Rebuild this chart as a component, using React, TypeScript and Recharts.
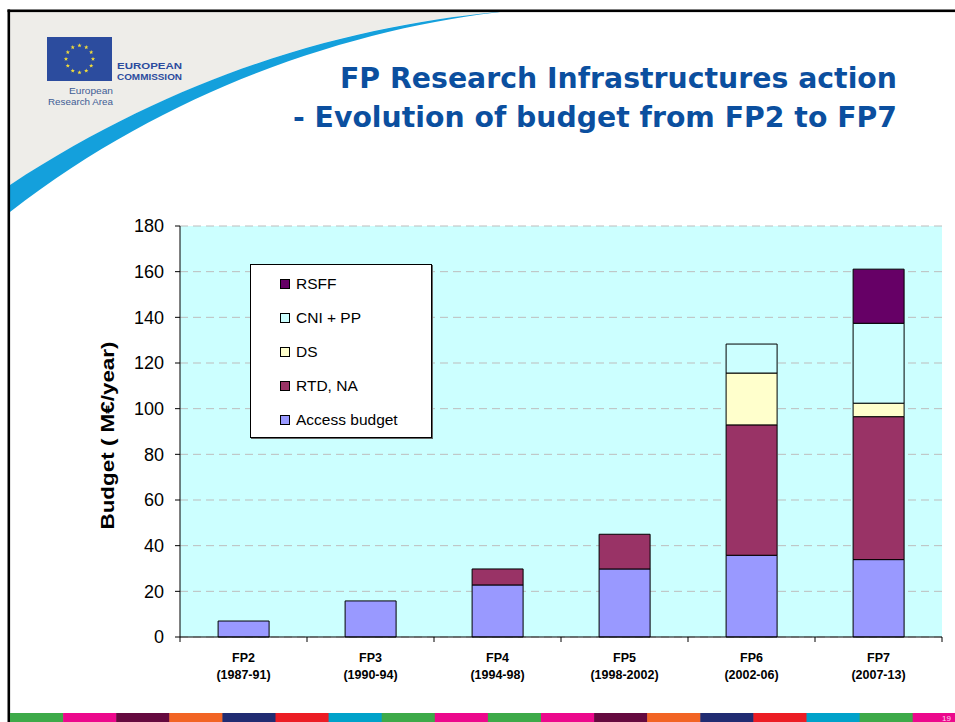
import React from 'react'
import { BarChart, Bar, XAxis, YAxis, CartesianGrid, Legend, Label } from 'recharts'

const programmes = ['FP2', 'FP3', 'FP4', 'FP5', 'FP6', 'FP7']
const periods = ['(1987-91)', '(1990-94)', '(1994-98)', '(1998-2002)', '(2002-06)', '(2007-13)']

// M€ per year, stacked bottom to top
const accessBudget = [7, 15.8, 22.8, 29.8, 35.8, 33.9]
const rtdNa = [0, 0, 7.0, 15.2, 57.1, 62.6]
const ds = [0, 0, 0, 0, 22.7, 5.9]
const cniPp = [0, 0, 0, 0, 12.7, 35.0]
const rsff = [0, 0, 0, 0, 0, 23.7]

const yTicks = [0, 20, 40, 60, 80, 100, 120, 140, 160, 180]

const SERIES = [
  { key: 'access', name: 'Access budget', fill: '#9999FF', values: accessBudget },
  { key: 'rtd', name: 'RTD, NA', fill: '#993366', values: rtdNa },
  { key: 'ds', name: 'DS', fill: '#FFFFCC', values: ds },
  { key: 'cni', name: 'CNI + PP', fill: '#CCFFFF', values: cniPp },
  { key: 'rsff', name: 'RSFF', fill: '#660066', values: rsff },
]

const chartData = programmes.map((p, i) => {
  const row: Record<string, string | number> = { name: p, period: periods[i] }
  SERIES.forEach(s => { row[s.key] = s.values[i] })
  return row
})

const STRIPE = ['#3DAA49', '#EC088C', '#650A3F', '#F26424', '#212C72', '#EC1C24', '#00A2CA', '#3DAA49', '#EC088C']

const FONT = "'Liberation Sans', Arial, sans-serif"
const NARROW = "'Liberation Sans Narrow', 'Arial Narrow', 'Liberation Sans', sans-serif"

function ProgrammeTick(props: any) {
  const { x, y, payload, index } = props
  const half = payload && payload.offset ? payload.offset : 63.5
  const i = index ?? 0
  return (
    <g>
      <line x1={x - half} x2={x - half} y1={y} y2={y + 5} stroke="#000" />
      {i === programmes.length - 1 && (
        <line x1={x + half} x2={x + half} y1={y} y2={y + 5} stroke="#000" />
      )}
      <text x={x} y={y + 25} textAnchor="middle" fontFamily={NARROW} fontWeight="bold" fontSize={12.5} fill="#000">
        {payload.value}
      </text>
      <text x={x} y={y + 42} textAnchor="middle" fontFamily={NARROW} fontWeight="bold" fontSize={12.5} fill="#000">
        {periods[i]}
      </text>
    </g>
  )
}

function BudgetLabel(props: any) {
  const vb = props.viewBox || { x: 100, y: 226, width: 80, height: 411 }
  const cx = vb.x + 13.5
  const cy = vb.y + vb.height / 2 + 4
  return (
    <text
      x={cx}
      y={cy}
      transform={`rotate(-90 ${cx} ${cy})`}
      textAnchor="middle"
      fontFamily={FONT}
      fontWeight="bold"
      fontSize={18}
      textLength={188}
      lengthAdjust="spacingAndGlyphs"
      fill="#000"
    >
      Budget ( M€/year)
    </text>
  )
}

function LegendBox() {
  return (
    <div
      style={{
        width: 180,
        height: 172,
        background: '#fff',
        border: '1px solid #000',
        boxShadow: '1px 1px 0 #666',
        position: 'relative',
        fontFamily: FONT,
        fontSize: 15.5,
        color: '#000',
      }}
    >
      {[...SERIES].reverse().map((s, i) => (
        <div
          key={s.key}
          style={{ position: 'absolute', left: 29, top: 8 + i * 34, height: 22, display: 'flex', alignItems: 'center' }}
        >
          <span style={{ width: 8, height: 8, background: s.fill, border: '1px solid #000', marginRight: 6 }} />
          <span>{s.name}</span>
        </div>
      ))}
    </div>
  )
}

function Star({ cx, cy }: { cx: number; cy: number }) {
  const pts: string[] = []
  for (let k = 0; k < 10; k++) {
    const r = k % 2 === 0 ? 2.3 : 0.95
    const a = -Math.PI / 2 + (k * Math.PI) / 5
    pts.push(`${(cx + r * Math.cos(a)).toFixed(2)},${(cy + r * Math.sin(a)).toFixed(2)}`)
  }
  return <polygon points={pts.join(' ')} fill="#F2DC3A" />
}

function SlideBackground() {
  const stars = Array.from({ length: 12 }, (_, k) => {
    const a = (k * Math.PI) / 6
    return { cx: 79.5 + 13.5 * Math.sin(a), cy: 59 - 13.5 * Math.cos(a) }
  })
  return (
    <svg width={955} height={722} style={{ position: 'absolute', left: 0, top: 0 }}>
      <rect x={0} y={0} width={955} height={722} fill="#fff" />
      <path d="M10,12 L500,12 C380,22 200,60 10,185 Z" fill="#EEEDE9" />
      <path d="M508,11 C380,22 200,60 10,185 L10,212 C180,80 370,26 508,11 Z" fill="#14A0DC" />
      <rect x={7.5} y={9.5} width={947.5} height={2.6} fill="#000" />
      <rect x={7.5} y={9.5} width={2.6} height={712.5} fill="#000" />

      <rect x={47} y={37} width={65} height={44} fill="#2C4C9E" />
      {stars.map((s, k) => <Star key={k} cx={s.cx} cy={s.cy} />)}
      <text x={117} y={68.5} fontFamily={FONT} fontWeight="bold" fontSize={9.5} fill="#2C4C9E" textLength={65} lengthAdjust="spacingAndGlyphs">EUROPEAN</text>
      <text x={117} y={79.5} fontFamily={FONT} fontWeight="bold" fontSize={9.5} fill="#2C4C9E" textLength={65} lengthAdjust="spacingAndGlyphs">COMMISSION</text>
      <text x={113} y={94} textAnchor="end" fontFamily={FONT} fontSize={9.5} fill="#3F5D95" textLength={44} lengthAdjust="spacingAndGlyphs">European</text>
      <text x={113} y={105} textAnchor="end" fontFamily={FONT} fontSize={9.5} fill="#3F5D95" textLength={65} lengthAdjust="spacingAndGlyphs">Research Area</text>

      <text x={897} y={88} textAnchor="end" fontFamily="Tahoma, 'DejaVu Sans', sans-serif" fontWeight="bold" fontSize={28} fill="#0B4F9F" textLength={557} lengthAdjust="spacingAndGlyphs">
        FP Research Infrastructures action
      </text>
      <text x={897} y={127} textAnchor="end" fontFamily="Tahoma, 'DejaVu Sans', sans-serif" fontWeight="bold" fontSize={28} fill="#0B4F9F" textLength={604} lengthAdjust="spacingAndGlyphs">
        - Evolution of budget from FP2 to FP7
      </text>

      {Array.from({ length: 18 }, (_, i) => (
        <rect key={i} x={10 + i * 53.1} y={713} width={53.6} height={9} fill={STRIPE[i % STRIPE.length]} />
      ))}
      <text x={942} y={721} fontFamily={FONT} fontSize={8} fill="#FFD6EC">19</text>
    </svg>
  )
}

export default function App() {
  return (
    <div style={{ position: 'absolute', left: 0, top: 0, width: 955, height: 722, overflow: 'hidden' }}>
      <SlideBackground />
      <div style={{ position: 'absolute', left: 0, top: 0 }}>
        <BarChart
          width={955}
          height={722}
          data={chartData}
          margin={{ top: 226, right: 13, bottom: 35, left: 100 }}
          barCategoryGap="30%"
        >
          <CartesianGrid vertical={false} stroke="#BDBDBD" strokeDasharray="8 5" fill="#CCFFFF" fillOpacity={1} />
          <XAxis
            dataKey="name"
            height={50}
            axisLine={{ stroke: '#000', strokeWidth: 1 }}
            tickLine={false}
            tickSize={0}
            tickMargin={0}
            interval={0}
            tick={<ProgrammeTick />}
          />
          <YAxis
            width={80}
            domain={[0, 180]}
            ticks={yTicks}
            interval={0}
            axisLine={{ stroke: '#000', strokeWidth: 1 }}
            tickLine={{ stroke: '#000' }}
            tickSize={5}
            tickMargin={11}
            tick={{ fontFamily: FONT, fontSize: 18, fill: '#000' }}
          >
            <Label content={<BudgetLabel />} />
          </YAxis>
          <Legend
            layout="vertical"
            align="center"
            verticalAlign="middle"
            wrapperStyle={{ left: 250, top: 264, width: 182, height: 174 }}
            content={<LegendBox />}
          />
          {SERIES.map(s => (
            <Bar
              key={s.key}
              dataKey={s.key}
              name={s.name}
              stackId="budget"
              fill={s.fill}
              stroke="#000"
              strokeWidth={1}
              isAnimationActive={false}
            />
          ))}
        </BarChart>
      </div>
    </div>
  )
}
